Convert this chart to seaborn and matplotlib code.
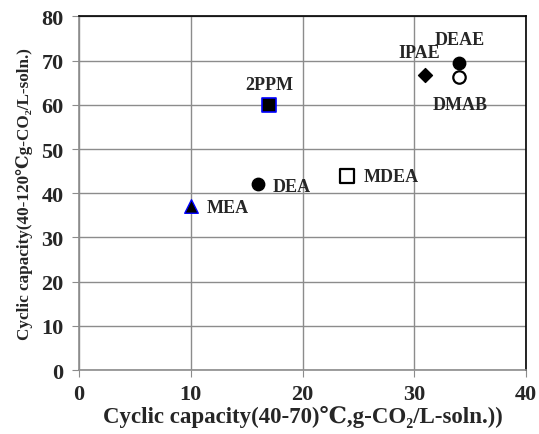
import matplotlib
matplotlib.use("Agg")
import matplotlib.pyplot as plt
import seaborn as sns
import pandas as pd

names = ["MEA", "DEA", "MDEA", "2PPM", "IPAE", "DEAE", "DMAB"]
x_vals = [10.0, 16.0, 24.0, 17.0, 31.0, 34.0, 34.0]
y_vals = [37.0, 42.0, 44.0, 60.0, 66.8, 69.5, 66.2]
x_ticks = [0, 10, 20, 30, 40]
y_ticks = [0, 10, 20, 30, 40, 50, 60, 70, 80]

styles = {
    "MEA": dict(marker="^", color="black", edgecolor="blue", s=95, lw=1.0),
    "DEA": dict(marker="o", color="black", edgecolor="black", s=80, lw=1.0),
    "MDEA": dict(marker="s", color="white", edgecolor="black", s=95, lw=1.6),
    "2PPM": dict(marker="s", color="black", edgecolor="blue", s=105, lw=1.2),
    "IPAE": dict(marker="D", color="black", edgecolor="black", s=50, lw=1.0),
    "DEAE": dict(marker="o", color="black", edgecolor="black", s=80, lw=1.0),
    "DMAB": dict(marker="o", color="white", edgecolor="black", s=80, lw=1.6),
}
label_offsets = {
    "MEA": (16, -1, "left", "center"),
    "DEA": (15, -2, "left", "center"),
    "MDEA": (16, -1, "left", "center"),
    "2PPM": (0, 20, "center", "center"),
    "IPAE": (-6, 22, "center", "center"),
    "DEAE": (1, 23, "center", "center"),
    "DMAB": (1, -27, "center", "center"),
}

df = pd.DataFrame({"name": names, "x": x_vals, "y": y_vals})

sns.set_style("white")
serif = ["Liberation Serif", "DejaVu Serif", "Noto Sans CJK SC"]
plt.rcParams["font.family"] = serif

fig = plt.figure(figsize=(5.39, 4.35), dpi=100)
ax = fig.add_axes([0.1466, 0.147, 0.8293, 0.813])

for n in names:
    st = styles[n]
    sub = df[df["name"] == n]
    sns.scatterplot(data=sub, x="x", y="y", ax=ax, marker=st["marker"],
                    color=st["color"], edgecolor=st["edgecolor"], s=st["s"],
                    linewidth=st["lw"], zorder=3, legend=False)
    dx, dy, ha, va = label_offsets[n]
    ax.annotate(n, (sub["x"].iloc[0], sub["y"].iloc[0]), xytext=(dx, dy),
                textcoords="offset pixels", ha=ha, va=va, fontsize=13,
                fontweight="bold", zorder=4)

ax.set_xlim(0, 40)
ax.set_ylim(0, 80)
ax.set_xticks(x_ticks)
ax.set_yticks(y_ticks)
ax.set_xticklabels([str(t) for t in x_ticks], fontsize=16, fontweight="bold")
ax.set_yticklabels([str(t) for t in y_ticks], fontsize=16, fontweight="bold")
ax.grid(True, color="#8c8c8c", linewidth=1.0)
ax.set_axisbelow(True)
ax.tick_params(axis="both", length=5, color="#8c8c8c", direction="out",
               bottom=True, left=True)
ax.tick_params(axis="y", pad=6)
ax.tick_params(axis="x", pad=5)
for side in ["left", "bottom"]:
    ax.spines[side].set_color("#8c8c8c")
    ax.spines[side].set_linewidth(1.2)
for side in ["top", "right"]:
    ax.spines[side].set_color("black")
    ax.spines[side].set_linewidth(1.2)

ax.set_xlabel("Cyclic capacity(40-70)\u2103,g-CO\u2082/L-soln.))",
              fontsize=16.5, fontweight="bold", labelpad=1)
ax.set_ylabel("Cyclic capacity(40-120\u2103g-CO\u2082/L-soln.)",
              fontsize=12.3, fontweight="bold", labelpad=6)

fig.savefig("out.png", dpi=100)
